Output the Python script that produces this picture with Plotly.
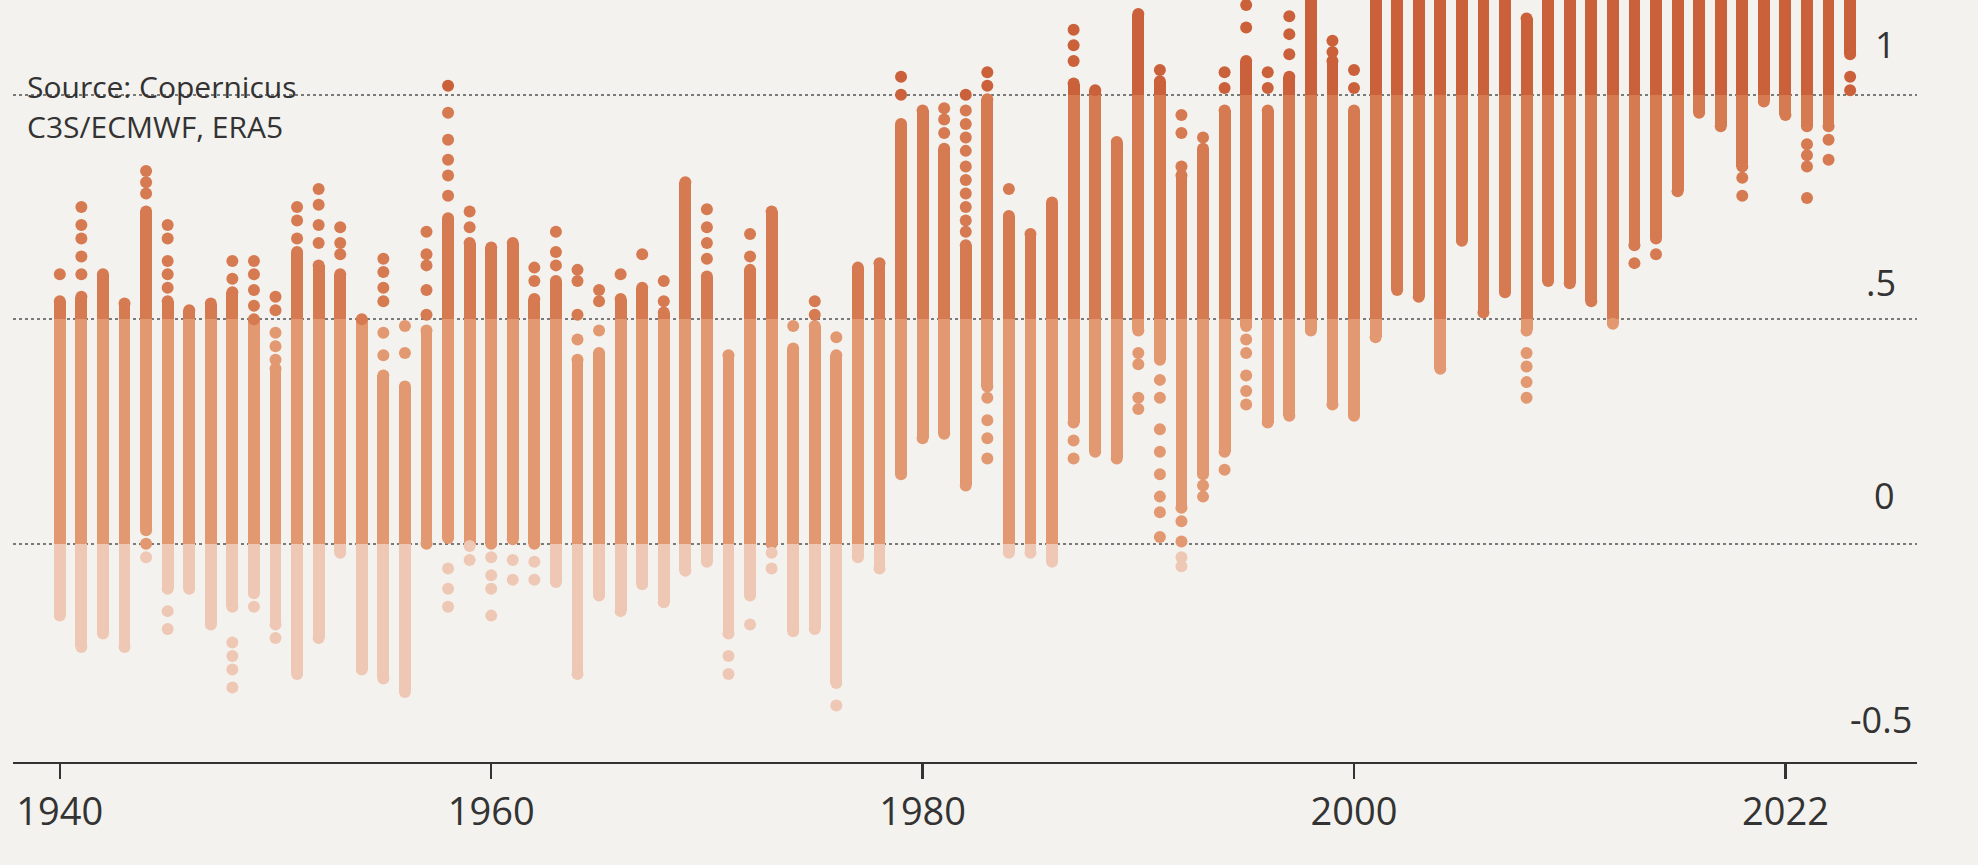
import plotly.graph_objects as go

# ---------------- data ----------------
years = list(range(1940, 2024))

# continuous body of daily anomalies per year (top / bottom of dense column)
body_hi = [0.54, 0.55, 0.60, 0.535, 0.74, 0.54, 0.52, 0.535, 0.56, 0.50,
           0.39, 0.65, 0.62, 0.60, 0.50, 0.375, 0.35, 0.475, 0.725, 0.67,
           0.66, 0.67, 0.545, 0.585, 0.41, 0.425, 0.545, 0.57, 0.515, 0.805,
           0.595, 0.42, 0.61, 0.74, 0.435, 0.485, 0.42, 0.615, 0.625, 0.935,
           0.965, 0.88, 0.665, 0.99, 0.73, 0.69, 0.76, 1.025, 1.01, 0.895,
           1.18, 1.03, 0.82, 0.88, 0.965, 1.075, 0.965, 1.04, 1.30, 1.075,
           0.965, 1.35, 1.35, 1.35, 1.35, 1.40, 1.35, 1.45, 1.17, 1.30,
           1.40, 1.30, 1.35, 1.40, 1.40, 1.50, 1.60, 1.50, 1.45, 1.55,
           1.60, 1.45, 1.45, 1.60]
body_lo = [-0.16, -0.23, -0.20, -0.23, 0.03, -0.10, -0.10, -0.18, -0.14, -0.11,
           -0.18, -0.29, -0.21, -0.02, -0.28, -0.30, -0.33, 0.0, 0.013, -0.005,
           0.0, 0.01, 0.0, -0.085, -0.29, -0.115, -0.15, -0.09, -0.13, -0.06,
           -0.04, -0.20, -0.115, 0.0, -0.195, -0.19, -0.31, -0.03, -0.055, 0.155,
           0.235, 0.245, 0.13, 0.35, -0.02, -0.02, -0.04, 0.27, 0.205, 0.19,
           0.475, 0.41, 0.08, 0.155, 0.205, 0.485, 0.27, 0.285, 0.475, 0.31,
           0.285, 0.46, 0.565, 0.55, 0.39, 0.675, 0.515, 0.56, 0.475, 0.585,
           0.58, 0.54, 0.49, 0.665, 0.68, 0.785, 0.96, 0.93, 0.84, 0.985,
           0.955, 0.93, 0.93, 1.09]

# isolated daily values sitting apart from the dense column
extra_year = ([1940] + [1941] * 5 + [1944] * 5 + [1945] * 7 + [1948] * 6 + [1949] * 5 +
              [1950] * 6 + [1951] * 3 + [1952] * 4 + [1953] * 3 + [1955] * 6 + [1956] * 2 +
              [1957] * 5 + [1958] * 9 + [1959] * 3 + [1960] * 4 + [1961] * 2 + [1962] * 4 +
              [1963] * 3 + [1964] * 4 + [1965] * 3 + [1966] + [1967] + [1968] * 2 +
              [1970] * 4 + [1971] * 2 + [1972] * 3 + [1973] * 2 + [1974] + [1975] * 2 +
              [1976] * 2 + [1979] * 2 + [1981] * 3 + [1982] * 11 + [1983] * 6 + [1984] +
              [1987] * 5 + [1990] * 4 + [1991] * 9 + [1992] * 7 + [1993] * 3 + [1994] * 3 +
              [1995] * 7 + [1996] * 2 + [1997] * 3 + [1999] * 2 + [2000] * 2 + [2008] * 4 +
              [2013] + [2014] + [2018] * 2 + [2021] * 4 + [2022] * 2 + [2023] * 2)
extra_val = ([0.60] +
             [0.75, 0.71, 0.68, 0.64, 0.60] +
             [0.83, 0.805, 0.78, 0.0, -0.03] +
             [0.71, 0.68, 0.63, 0.60, 0.57, -0.15, -0.19] +
             [0.63, 0.59, -0.22, -0.25, -0.28, -0.32] +
             [0.63, 0.60, 0.565, 0.53, -0.14] +
             [0.55, 0.52, 0.47, 0.44, 0.41, -0.21] +
             [0.75, 0.72, 0.68] +
             [0.79, 0.755, 0.71, 0.67] +
             [0.705, 0.67, 0.645] +
             [0.635, 0.605, 0.57, 0.54, 0.47, 0.42] +
             [0.485, 0.425] +
             [0.695, 0.645, 0.62, 0.565, 0.51] +
             [1.02, 0.96, 0.90, 0.855, 0.82, 0.775, -0.055, -0.10, -0.14] +
             [0.74, 0.705, -0.036] +
             [-0.03, -0.07, -0.10, -0.16] +
             [-0.036, -0.08] +
             [0.615, 0.585, -0.04, -0.08] +
             [0.695, 0.65, 0.62] +
             [0.61, 0.585, 0.51, 0.455] +
             [0.565, 0.54, 0.475] +
             [0.60] + [0.645] + [0.585, 0.54] +
             [0.745, 0.705, 0.67, 0.635] +
             [-0.25, -0.29] +
             [0.69, 0.64, -0.18] +
             [-0.02, -0.055] +
             [0.485] + [0.54, 0.51] + [0.46, -0.36] +
             [1.04, 1.0] +
             [0.97, 0.945, 0.915] +
             [1.0, 0.965, 0.935, 0.905, 0.875, 0.84, 0.81, 0.78, 0.75, 0.72, 0.695] +
             [1.05, 1.02, 0.325, 0.275, 0.235, 0.19] +
             [0.79] +
             [1.145, 1.11, 1.075, 0.23, 0.19] +
             [0.425, 0.40, 0.325, 0.30] +
             [1.055, 0.365, 0.325, 0.255, 0.205, 0.155, 0.105, 0.07, 0.015] +
             [0.955, 0.915, 0.84, 0.05, 0.005, -0.03, -0.05] +
             [0.905, 0.13, 0.105] +
             [1.05, 1.015, 0.165] +
             [1.20, 1.15, 0.455, 0.425, 0.375, 0.34, 0.31] +
             [1.05, 1.015] +
             [1.175, 1.135, 1.09] +
             [1.12, 1.095] +
             [1.055, 1.015] +
             [0.425, 0.395, 0.36, 0.325] +
             [0.625] + [0.645] +
             [0.815, 0.775] +
             [0.89, 0.865, 0.84, 0.77] +
             [0.90, 0.855] +
             [1.04, 1.01])

x_tick_vals = [1940, 1960, 1980, 2000, 2020]
x_tick_text = ["1940", "1960", "1980", "2000", "2022"]
y_tick_vals = [1, 0.5, 0, -0.5]
y_tick_text = ["1", ".5", "0", "-0.5"]
grid_vals = [0, 0.5, 1]
source_lines = ["Source: Copernicus", "C3S/ECMWF, ERA5"]

# ---------------- styling ----------------
BG = "#f4f2ee"
FONT = "Open Sans, Roboto, DejaVu Sans, sans-serif"
TEXT = "#333333"
bands = [(-10, 0, "#eec8b4"), (0, 0.5, "#e29870"), (0.5, 1, "#d67a52"), (1, 10, "#ca613b")]
BAR_W = 0.55
DOT = 12
Y_RANGE = [-0.486, 1.211]
# label placement (shift above gridline, shift from right edge), px
label_yshift = [50, 37, 48, 49]
label_xshift = [-19, -19, -20, -3]


def band_color(v):
    for lo, hi, c in bands:
        if lo <= v < hi:
            return c
    return bands[-1][2]


fig = go.Figure()

# dense columns, coloured by value band
for lo_b, hi_b, col in bands:
    xs, bases, hts = [], [], []
    for yr, lo, hi in zip(years, body_lo, body_hi):
        b = max(lo, lo_b)
        t = min(hi, hi_b)
        if t > b:
            xs.append(yr)
            bases.append(b)
            hts.append(t - b)
    fig.add_trace(go.Bar(x=xs, y=hts, base=bases, width=BAR_W,
                         marker=dict(color=col, line=dict(width=0)),
                         hoverinfo="skip", showlegend=False))

# dots: rounded ends of each column plus isolated days
dot_x = years + years + extra_year
dot_y = body_hi + body_lo + extra_val
fig.add_trace(go.Scatter(x=dot_x, y=dot_y, mode="markers",
                         marker=dict(size=DOT, color=[band_color(v) for v in dot_y],
                                     line=dict(width=0)),
                         hoverinfo="skip", showlegend=False))

# right-hand value labels sitting above each gridline
span = Y_RANGE[1] - Y_RANGE[0]
for v, t, ys, xs in zip(y_tick_vals, y_tick_text, label_yshift, label_xshift):
    fig.add_annotation(x=1.0, xref="paper", xanchor="right", xshift=xs,
                       y=(v - Y_RANGE[0]) / span, yref="paper", yanchor="middle", yshift=ys,
                       text=t, showarrow=False,
                       font=dict(family=FONT, size=36, color=TEXT))

# source note
for i, line in enumerate(source_lines):
    fig.add_annotation(x=0, xref="paper", xanchor="left", xshift=12,
                       y=1, yref="paper", yanchor="middle", yshift=-86 - 40 * i,
                       text=line, showarrow=False,
                       font=dict(family=FONT, size=30, color=TEXT))

fig.update_layout(
    width=1978, height=865,
    margin=dict(l=13, r=61, t=0, b=103),
    paper_bgcolor=BG, plot_bgcolor=BG,
    barmode="overlay", bargap=0,
    font=dict(family=FONT, color=TEXT),
    xaxis=dict(range=[1937.83, 2026.1], tickvals=x_tick_vals, ticktext=x_tick_text,
               showgrid=False, zeroline=False, showline=True, linecolor="#333333",
               linewidth=2, ticks="outside", ticklen=15, tickwidth=2.5, tickcolor="#333333",
               tickfont=dict(family=FONT, size=38, color=TEXT)),
    yaxis=dict(range=Y_RANGE, tickvals=grid_vals, showticklabels=False,
               showgrid=True, gridcolor="#7a7a7a", gridwidth=2, griddash="dot",
               zeroline=False, showline=False, ticks=""),
)

fig.write_html("out.html", config={"displayModeBar": False, "staticPlot": True},
               post_script="document.body.style.margin='0px';document.body.style.overflow='hidden';")
